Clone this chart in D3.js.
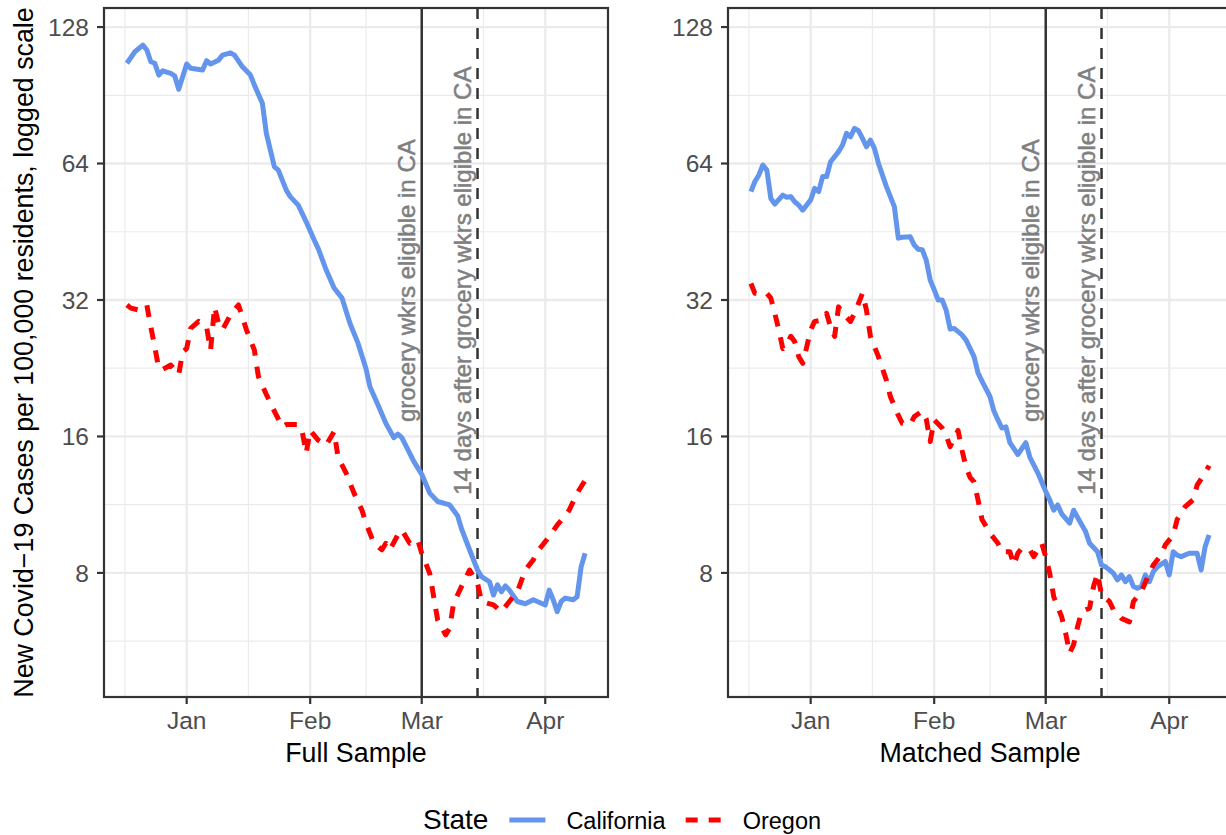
<!DOCTYPE html>
<html>
<head>
<meta charset="utf-8">
<script src="https://cdn.jsdelivr.net/npm/d3@7"></script>
<style>
    body { margin: 0; background: #ffffff; }
    svg { display: block; font-family: "Liberation Sans", Arial, Helvetica, sans-serif; }
</style>
</head>
<body>
<svg id="chart" width="1226" height="835"></svg>
<script>
// ---- data ----
const yTicks = [8, 16, 32, 64, 128];
const yDomain = [4.26, 141];
const eligibleDate = '2021-03-01';
const plus14Date = '2021-03-15';
const eligibleLabel = 'grocery wkrs eligible in CA';
const plus14Label = '14 days after grocery wkrs eligible in CA';
const labelValue = 35.3;
const panelTitles = ['Full Sample', 'Matched Sample'];
const stateNames = ['California', 'Oregon'];
const yTitle = 'New Covid\u221219 Cases per 100,000 residents, logged scale';

const caFull = [
    ['2020-12-17', 106.5], ['2020-12-19', 112.9], ['2020-12-21', 116.8], ['2020-12-22', 113.9],
    ['2020-12-23', 107.3], ['2020-12-24', 106.5], ['2020-12-25', 100.3], ['2020-12-26', 102.5],
    ['2020-12-28', 101.2], ['2020-12-29', 99.8], ['2020-12-30', 93.3], ['2021-01-01', 106.1],
    ['2021-01-02', 103.8], ['2021-01-05', 102.9], ['2021-01-06', 107.9], ['2021-01-07', 106.1],
    ['2021-01-09', 108.2], ['2021-01-10', 111.0], ['2021-01-12', 112.3], ['2021-01-13', 111.0],
    ['2021-01-15', 104.6], ['2021-01-17', 100.3], ['2021-01-18', 95.3], ['2021-01-20', 86.9],
    ['2021-01-21', 74.6], ['2021-01-23', 63.0], ['2021-01-24', 61.9], ['2021-01-26', 55.9],
    ['2021-01-27', 54.1], ['2021-01-29', 51.8], ['2021-01-31', 47.6], ['2021-02-02', 43.4],
    ['2021-02-03', 41.6], ['2021-02-05', 37.3], ['2021-02-07', 34.0], ['2021-02-09', 32.3],
    ['2021-02-11', 28.4], ['2021-02-13', 25.7], ['2021-02-15', 22.6], ['2021-02-16', 20.6],
    ['2021-02-18', 18.8], ['2021-02-20', 17.1], ['2021-02-22', 15.9], ['2021-02-23', 16.2],
    ['2021-02-24', 15.9], ['2021-02-27', 14.1], ['2021-03-01', 13.2], ['2021-03-03', 12.0],
    ['2021-03-05', 11.5], ['2021-03-08', 11.3], ['2021-03-10', 10.7], ['2021-03-11', 10.0],
    ['2021-03-13', 9.0], ['2021-03-15', 8.12], ['2021-03-16', 7.85], ['2021-03-18', 7.65],
    ['2021-03-19', 7.15], ['2021-03-20', 7.53], ['2021-03-21', 7.27], ['2021-03-22', 7.49],
    ['2021-03-23', 7.33], ['2021-03-25', 6.92], ['2021-03-27', 6.84], ['2021-03-29', 6.98],
    ['2021-03-30', 6.92], ['2021-04-01', 6.80], ['2021-04-02', 7.33], ['2021-04-03', 6.98],
    ['2021-04-04', 6.57], ['2021-04-05', 6.92], ['2021-04-06', 7.04], ['2021-04-08', 6.98],
    ['2021-04-09', 7.09], ['2021-04-10', 8.25], ['2021-04-11', 8.84]
];

const orFull = [
    ['2020-12-17', 31.2], ['2020-12-18', 30.7], ['2020-12-20', 30.4], ['2020-12-22', 31.2],
    ['2020-12-23', 27.9], ['2020-12-24', 25.2], ['2020-12-25', 22.6], ['2020-12-26', 22.5],
    ['2020-12-28', 23.0], ['2020-12-30', 21.9], ['2020-12-31', 24.6], ['2021-01-01', 25.0],
    ['2021-01-02', 27.7], ['2021-01-04', 28.7], ['2021-01-06', 27.9], ['2021-01-07', 24.8],
    ['2021-01-08', 30.9], ['2021-01-09', 28.4], ['2021-01-10', 27.5], ['2021-01-12', 29.7],
    ['2021-01-14', 31.2], ['2021-01-16', 27.5], ['2021-01-18', 24.8], ['2021-01-19', 21.7],
    ['2021-01-21', 19.8], ['2021-01-23', 18.2], ['2021-01-25', 16.8], ['2021-01-26', 17.0],
    ['2021-01-29', 17.0], ['2021-01-30', 16.4], ['2021-01-31', 14.7], ['2021-02-01', 16.5],
    ['2021-02-03', 15.7], ['2021-02-05', 15.3], ['2021-02-07', 16.4], ['2021-02-08', 14.4],
    ['2021-02-10', 13.3], ['2021-02-12', 12.0], ['2021-02-14', 11.0], ['2021-02-15', 10.3],
    ['2021-02-17', 9.3], ['2021-02-19', 9.0], ['2021-02-20', 9.3], ['2021-02-21', 9.0],
    ['2021-02-23', 9.7], ['2021-02-24', 9.95], ['2021-02-26', 9.3], ['2021-02-28', 9.46],
    ['2021-03-01', 8.84], ['2021-03-03', 7.98], ['2021-03-04', 7.09], ['2021-03-05', 6.30],
    ['2021-03-07', 5.84], ['2021-03-08', 6.04], ['2021-03-09', 6.86], ['2021-03-11', 7.47],
    ['2021-03-13', 8.12], ['2021-03-15', 7.59], ['2021-03-16', 6.92], ['2021-03-19', 6.80],
    ['2021-03-21', 6.57], ['2021-03-23', 6.92], ['2021-03-25', 7.27], ['2021-03-27', 8.12],
    ['2021-03-29', 8.55], ['2021-03-30', 8.91], ['2021-04-02', 9.62], ['2021-04-04', 10.2],
    ['2021-04-06', 10.7], ['2021-04-07', 11.0], ['2021-04-09', 12.0], ['2021-04-11', 12.8]
];

const caMatched = [
    ['2020-12-17', 55.5], ['2020-12-18', 58.4], ['2020-12-19', 60.4], ['2020-12-20', 63.5],
    ['2020-12-21', 61.9], ['2020-12-22', 53.6], ['2020-12-23', 52.1], ['2020-12-25', 54.5],
    ['2020-12-26', 53.9], ['2020-12-27', 54.1], ['2020-12-28', 52.7], ['2020-12-29', 51.8],
    ['2020-12-30', 50.5], ['2021-01-01', 53.2], ['2021-01-02', 56.4], ['2021-01-03', 55.5],
    ['2021-01-04', 59.9], ['2021-01-05', 59.9], ['2021-01-06', 64.6], ['2021-01-08', 68.0],
    ['2021-01-09', 70.3], ['2021-01-10', 74.6], ['2021-01-11', 73.3], ['2021-01-12', 76.5],
    ['2021-01-13', 75.6], ['2021-01-14', 72.7], ['2021-01-15', 69.7], ['2021-01-16', 72.1],
    ['2021-01-17', 69.1], ['2021-01-18', 64.1], ['2021-01-20', 56.9], ['2021-01-22', 51.4],
    ['2021-01-23', 43.8], ['2021-01-24', 44.0], ['2021-01-26', 44.1], ['2021-01-27', 42.3],
    ['2021-01-28', 41.4], ['2021-01-29', 41.3], ['2021-01-30', 39.2], ['2021-01-31', 35.4],
    ['2021-02-01', 33.7], ['2021-02-02', 32.0], ['2021-02-03', 32.0], ['2021-02-04', 30.4],
    ['2021-02-05', 27.6], ['2021-02-06', 27.7], ['2021-02-08', 26.8], ['2021-02-09', 26.1],
    ['2021-02-11', 24.0], ['2021-02-12', 22.1], ['2021-02-13', 21.2], ['2021-02-15', 19.6],
    ['2021-02-16', 18.2], ['2021-02-17', 17.4], ['2021-02-18', 16.7], ['2021-02-19', 16.8],
    ['2021-02-20', 15.5], ['2021-02-22', 14.6], ['2021-02-24', 15.5], ['2021-02-25', 14.4],
    ['2021-02-27', 13.3], ['2021-03-01', 12.1], ['2021-03-02', 11.6], ['2021-03-03', 11.0],
    ['2021-03-04', 11.3], ['2021-03-05', 10.8], ['2021-03-07', 10.3], ['2021-03-08', 11.0],
    ['2021-03-09', 10.6], ['2021-03-11', 9.87], ['2021-03-12', 9.3], ['2021-03-14', 8.91],
    ['2021-03-15', 8.33], ['2021-03-16', 8.25], ['2021-03-17', 8.12], ['2021-03-18', 7.98],
    ['2021-03-19', 7.72], ['2021-03-20', 7.92], ['2021-03-21', 7.65], ['2021-03-22', 7.85],
    ['2021-03-23', 7.47], ['2021-03-24', 7.40], ['2021-03-25', 7.47], ['2021-03-26', 7.92],
    ['2021-03-27', 7.65], ['2021-03-28', 8.05], ['2021-03-29', 8.25], ['2021-03-31', 8.48],
    ['2021-04-01', 7.92], ['2021-04-02', 8.91], ['2021-04-03', 8.76], ['2021-04-04', 8.69],
    ['2021-04-06', 8.84], ['2021-04-08', 8.84], ['2021-04-09', 8.12], ['2021-04-10', 9.14],
    ['2021-04-11', 9.70]
];

const orMatched = [
    ['2020-12-17', 34.8], ['2020-12-18', 33.1], ['2020-12-21', 33.1], ['2020-12-22', 32.3],
    ['2020-12-23', 29.9], ['2020-12-24', 27.5], ['2020-12-25', 25.0], ['2020-12-26', 25.5],
    ['2020-12-27', 26.6], ['2020-12-28', 25.9], ['2020-12-29', 24.0], ['2020-12-30', 23.2],
    ['2020-12-31', 25.2], ['2021-01-01', 27.5], ['2021-01-02', 28.7], ['2021-01-04', 28.9],
    ['2021-01-05', 29.9], ['2021-01-06', 27.9], ['2021-01-07', 26.6], ['2021-01-08', 30.9],
    ['2021-01-09', 29.9], ['2021-01-11', 28.7], ['2021-01-12', 29.9], ['2021-01-14', 33.1],
    ['2021-01-15', 30.4], ['2021-01-16', 26.6], ['2021-01-18', 24.0], ['2021-01-20', 21.3],
    ['2021-01-21', 19.6], ['2021-01-23', 17.8], ['2021-01-24', 17.1], ['2021-01-26', 17.0],
    ['2021-01-27', 17.7], ['2021-01-29', 18.2], ['2021-01-30', 17.5], ['2021-01-31', 15.6],
    ['2021-02-01', 17.4], ['2021-02-03', 16.7], ['2021-02-04', 16.1], ['2021-02-05', 15.2],
    ['2021-02-07', 16.5], ['2021-02-08', 14.9], ['2021-02-09', 13.7], ['2021-02-10', 13.0],
    ['2021-02-11', 12.7], ['2021-02-12', 11.6], ['2021-02-13', 10.5], ['2021-02-15', 9.79],
    ['2021-02-17', 9.3], ['2021-02-18', 8.91], ['2021-02-20', 8.91], ['2021-02-21', 8.33],
    ['2021-02-22', 8.84], ['2021-02-23', 9.07], ['2021-02-25', 9.0], ['2021-02-26', 8.69],
    ['2021-02-28', 9.3], ['2021-03-01', 8.69], ['2021-03-02', 7.98], ['2021-03-03', 7.09],
    ['2021-03-05', 6.40], ['2021-03-06', 5.89], ['2021-03-07', 5.32], ['2021-03-08', 5.56],
    ['2021-03-09', 6.09], ['2021-03-10', 6.57], ['2021-03-12', 6.69], ['2021-03-13', 7.47],
    ['2021-03-14', 7.98], ['2021-03-15', 7.15], ['2021-03-17', 6.92], ['2021-03-18', 6.63],
    ['2021-03-20', 6.35], ['2021-03-22', 6.24], ['2021-03-23', 6.92], ['2021-03-25', 7.27],
    ['2021-03-27', 7.98], ['2021-03-28', 8.33], ['2021-03-30', 8.77], ['2021-03-31', 9.22],
    ['2021-04-02', 9.70], ['2021-04-03', 10.5], ['2021-04-05', 11.2], ['2021-04-07', 11.6],
    ['2021-04-08', 12.5], ['2021-04-10', 13.3], ['2021-04-11', 13.8]
];

const panels = [
    { title: panelTitles[0], series: [caFull, orFull] },
    { title: panelTitles[1], series: [caMatched, orMatched] }
];

// ---- layout ----
const svg = d3.select('#chart');
const panelLefts = [104, 728];
const panelTop = 8;
const panelWidth = 504;
const panelHeight = 689;

const stateStyles = [
    { color: '#6495ED', dash: null },
    { color: '#FF0000', dash: '12 11' }
];
const gridColor = '#EBEBEB';
const inkColor = '#333333';

const parseDate = d3.timeParse('%Y-%m-%d');

// x domain: data extent plus 5% on each side
const allDates = panels.flatMap(p => p.series.flat().map(d => parseDate(d[0])));
const [dMin, dMax] = d3.extent(allDates);
const pad = (dMax - dMin) * 0.05;

const x = d3.scaleTime()
    .domain([new Date(+dMin - pad), new Date(+dMax + pad)])
    .range([0, panelWidth]);

const y = d3.scaleLog()
    .base(2)
    .domain(yDomain)
    .range([panelHeight, 0]);

const monthBreaks = d3.timeMonth.range(d3.timeMonth.floor(x.domain()[0]), x.domain()[1]);
const inX = d => d >= x.domain()[0] && d <= x.domain()[1];
const xMajor = monthBreaks.filter(inX);
const xMinor = d3.pairs(monthBreaks)
    .map(([a, b]) => new Date((+a + +b) / 2))
    .filter(inX);
const yMinor = [yTicks[0] / Math.SQRT2, ...d3.pairs(yTicks).map(([a, b]) => Math.sqrt(a * b))]
    .filter(v => v >= yDomain[0] && v <= yDomain[1]);

const line = d3.line()
    .x(d => x(parseDate(d[0])))
    .y(d => y(d[1]));

function drawPanel(panel, left) {
    const g = svg.append('g').attr('transform', `translate(${left},${panelTop})`);

    g.append('rect')
        .attr('width', panelWidth)
        .attr('height', panelHeight)
        .attr('fill', '#ffffff');

    // minor grid
    g.selectAll('line.minor-y')
        .data(yMinor)
        .enter()
        .append('line')
        .attr('class', 'minor-y')
        .attr('x1', 0).attr('x2', panelWidth)
        .attr('y1', d => y(d)).attr('y2', d => y(d))
        .attr('stroke', gridColor).attr('stroke-width', 1.2);

    g.selectAll('line.minor-x')
        .data(xMinor)
        .enter()
        .append('line')
        .attr('class', 'minor-x')
        .attr('x1', d => x(d)).attr('x2', d => x(d))
        .attr('y1', 0).attr('y2', panelHeight)
        .attr('stroke', gridColor).attr('stroke-width', 1.2);

    // major grid
    g.selectAll('line.major-y')
        .data(yTicks)
        .enter()
        .append('line')
        .attr('class', 'major-y')
        .attr('x1', 0).attr('x2', panelWidth)
        .attr('y1', d => y(d)).attr('y2', d => y(d))
        .attr('stroke', gridColor).attr('stroke-width', 2.3);

    g.selectAll('line.major-x')
        .data(xMajor)
        .enter()
        .append('line')
        .attr('class', 'major-x')
        .attr('x1', d => x(d)).attr('x2', d => x(d))
        .attr('y1', 0).attr('y2', panelHeight)
        .attr('stroke', gridColor).attr('stroke-width', 2.3);

    // reference lines
    const vlines = [
        { date: eligibleDate, dash: null, label: eligibleLabel },
        { date: plus14Date, dash: '11 9', label: plus14Label }
    ];

    vlines.forEach(v => {
        const vx = x(parseDate(v.date));
        g.append('line')
            .attr('x1', vx).attr('x2', vx)
            .attr('y1', 0).attr('y2', panelHeight)
            .attr('stroke', inkColor)
            .attr('stroke-width', 2.5)
            .attr('stroke-dasharray', v.dash);

        g.append('text')
            .attr('transform', `translate(${vx - 7},${y(labelValue)}) rotate(-90)`)
            .attr('text-anchor', 'middle')
            .attr('font-size', 24)
            .attr('fill', '#7F7F7F')
            .attr('stroke', '#7F7F7F')
            .attr('stroke-width', 0.5)
            .text(v.label);
    });

    // series
    panel.series.forEach((data, i) => {
        g.append('path')
            .datum(data)
            .attr('d', line)
            .attr('fill', 'none')
            .attr('stroke', stateStyles[i].color)
            .attr('stroke-width', 5)
            .attr('stroke-linejoin', 'round')
            .attr('stroke-dasharray', stateStyles[i].dash);
    });

    // border
    g.append('rect')
        .attr('width', panelWidth)
        .attr('height', panelHeight)
        .attr('fill', 'none')
        .attr('stroke', inkColor)
        .attr('stroke-width', 2.2);

    // y axis
    g.selectAll('line.ytick')
        .data(yTicks)
        .enter()
        .append('line')
        .attr('class', 'ytick')
        .attr('x1', -7).attr('x2', 0)
        .attr('y1', d => y(d)).attr('y2', d => y(d))
        .attr('stroke', inkColor).attr('stroke-width', 2.2);

    g.selectAll('text.ylab')
        .data(yTicks)
        .enter()
        .append('text')
        .attr('class', 'ylab')
        .attr('x', -15)
        .attr('y', d => y(d))
        .attr('dy', '0.36em')
        .attr('text-anchor', 'end')
        .attr('font-size', 24.5)
        .attr('fill', '#4D4D4D')
        .text(d => d);

    // x axis
    g.selectAll('line.xtick')
        .data(xMajor)
        .enter()
        .append('line')
        .attr('class', 'xtick')
        .attr('x1', d => x(d)).attr('x2', d => x(d))
        .attr('y1', panelHeight).attr('y2', panelHeight + 7)
        .attr('stroke', inkColor).attr('stroke-width', 2.2);

    g.selectAll('text.xlab')
        .data(xMajor)
        .enter()
        .append('text')
        .attr('class', 'xlab')
        .attr('x', d => x(d))
        .attr('y', panelHeight + 32)
        .attr('text-anchor', 'middle')
        .attr('font-size', 24.5)
        .attr('fill', '#4D4D4D')
        .text(d3.timeFormat('%b'));

    g.append('text')
        .attr('x', panelWidth / 2)
        .attr('y', panelHeight + 65)
        .attr('text-anchor', 'middle')
        .attr('font-size', 26.8)
        .attr('fill', '#000000')
        .text(panel.title);
}

panels.forEach((p, i) => drawPanel(p, panelLefts[i]));

// y title
svg.append('text')
    .attr('transform', `translate(33,${panelTop + panelHeight / 2}) rotate(-90)`)
    .attr('text-anchor', 'middle')
    .attr('font-size', 26.8)
    .attr('fill', '#000000')
    .text(yTitle);

// legend
const legend = svg.append('g').attr('transform', 'translate(423,829)');
const legendTitle = legend.append('text')
    .attr('font-size', 28)
    .attr('fill', '#000000')
    .text('State');

let cursor = legendTitle.node().getComputedTextLength() + 21;
stateNames.forEach((name, i) => {
    legend.append('line')
        .attr('x1', cursor).attr('x2', cursor + 36)
        .attr('y1', -9).attr('y2', -9)
        .attr('stroke', stateStyles[i].color)
        .attr('stroke-width', 5)
        .attr('stroke-dasharray', stateStyles[i].dash);
    cursor += 36 + 21;

    const label = legend.append('text')
        .attr('x', cursor)
        .attr('font-size', 23.5)
        .attr('fill', '#000000')
        .text(name);
    cursor += label.node().getComputedTextLength() + 20;
});
</script>
</body>
</html>
